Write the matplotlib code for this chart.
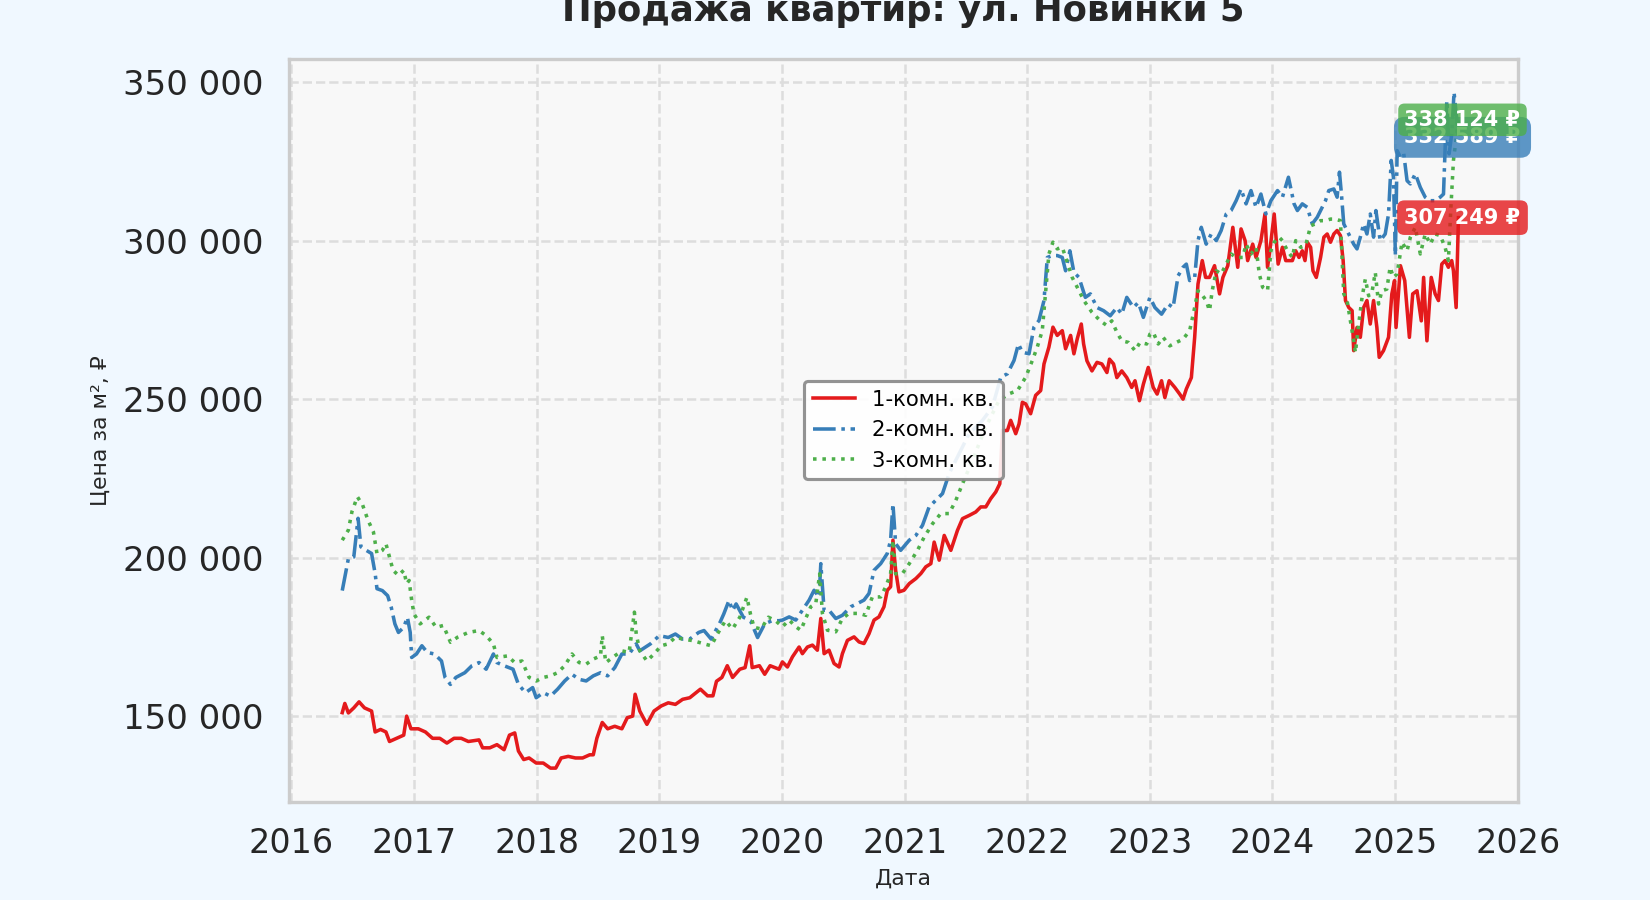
import pandas as pd
import numpy as np
import matplotlib.pyplot as plt
import matplotlib.dates as mdates
import matplotlib.ticker as mticker

# --- data: (decimal year, price in thousand rub per m2) ---
years_1k = [2016.417, 2016.438, 2016.467, 2016.511, 2016.554, 2016.598, 2016.656, 2016.685, 2016.729, 2016.773,
            2016.802, 2016.860, 2016.918, 2016.942, 2016.977, 2017.035, 2017.093, 2017.151, 2017.210, 2017.268,
            2017.326, 2017.385, 2017.443, 2017.530, 2017.559, 2017.618, 2017.676, 2017.734, 2017.778, 2017.821,
            2017.851, 2017.894, 2017.938, 2017.996, 2018.054, 2018.113, 2018.156, 2018.200, 2018.258, 2018.317,
            2018.375, 2018.433, 2018.462, 2018.491, 2018.535, 2018.579, 2018.637, 2018.695, 2018.739, 2018.783,
            2018.803, 2018.841, 2018.899, 2018.957, 2019.016, 2019.074, 2019.132, 2019.191, 2019.249, 2019.336,
            2019.394, 2019.438, 2019.467, 2019.511, 2019.555, 2019.598, 2019.657, 2019.700, 2019.738, 2019.758,
            2019.817, 2019.860, 2019.904, 2019.977,
            2020.005, 2020.046, 2020.087, 2020.141, 2020.168, 2020.209, 2020.250, 2020.290, 2020.318, 2020.345,
            2020.385, 2020.426, 2020.467, 2020.494, 2020.535, 2020.589, 2020.630, 2020.670, 2020.711, 2020.752,
            2020.792, 2020.833, 2020.860, 2020.887, 2020.906, 2020.928, 2020.955, 2020.996, 2021.037, 2021.091,
            2021.132, 2021.172, 2021.213, 2021.240, 2021.281, 2021.322, 2021.376, 2021.430, 2021.471, 2021.525,
            2021.579, 2021.620, 2021.661, 2021.701, 2021.742, 2021.775, 2021.796, 2021.837, 2021.864, 2021.905,
            2021.932, 2021.959, 2021.986, 2022.027, 2022.068, 2022.109, 2022.136, 2022.176, 2022.209, 2022.244,
            2022.285, 2022.312, 2022.353, 2022.380, 2022.407, 2022.440,
            2022.459, 2022.486, 2022.527, 2022.568, 2022.608, 2022.649, 2022.670, 2022.703, 2022.730, 2022.770,
            2022.811, 2022.851, 2022.878, 2022.914, 2022.946, 2022.986, 2023.027, 2023.059, 2023.095, 2023.122,
            2023.157, 2023.203, 2023.243, 2023.270, 2023.297, 2023.338, 2023.365, 2023.392, 2023.427, 2023.454,
            2023.486, 2023.527, 2023.568, 2023.595, 2023.635, 2023.676, 2023.716, 2023.743, 2023.776, 2023.797,
            2023.838, 2023.865, 2023.905, 2023.938, 2023.959, 2023.981, 2024.014, 2024.046, 2024.081, 2024.108,
            2024.162, 2024.189, 2024.216, 2024.243, 2024.265, 2024.284, 2024.311, 2024.330, 2024.357, 2024.392,
            2024.419, 2024.446, 2024.473, 2024.500, 2024.527, 2024.554, 2024.576, 2024.595, 2024.622, 2024.649,
            2024.662, 2024.689, 2024.716, 2024.743, 2024.770, 2024.797, 2024.824, 2024.851, 2024.870, 2024.905,
            2024.946, 2024.973, 2024.995, 2025.005, 2025.041, 2025.076, 2025.114, 2025.141, 2025.176, 2025.211,
            2025.230, 2025.257, 2025.292, 2025.324, 2025.351, 2025.378, 2025.405, 2025.432, 2025.459, 2025.473,
            2025.495, 2025.514]
price_1k = [151.1, 154.0, 151.0, 152.6, 154.5, 152.6, 151.6, 145.0, 145.8, 145.0,
            142.0, 143.0, 144.0, 150.0, 146.0, 146.0, 145.0, 143.0, 143.0, 141.5,
            143.0, 143.0, 142.0, 142.5, 140.0, 140.0, 141.0, 139.4, 144.0, 144.7,
            139.0, 136.3, 136.8, 135.2, 135.2, 133.6, 133.6, 136.8, 137.3, 136.8,
            136.8, 137.8, 137.8, 143.0, 148.0, 146.0, 146.8, 146.0, 149.5, 150.0,
            156.9, 151.6, 147.4, 151.6, 153.2, 154.2, 153.7, 155.3, 155.8, 158.5,
            156.4, 156.4, 161.0, 162.2, 165.9, 162.2, 164.8, 165.3, 172.2, 165.3,
            165.9, 163.2, 165.9, 164.8,
            167.1, 165.5, 168.7, 171.8, 169.7, 171.8, 172.4, 170.8, 180.8, 169.7,
            170.8, 166.6, 165.5, 169.7, 173.9, 175.0, 173.4, 172.9, 176.0, 180.3,
            181.3, 184.5, 189.7, 190.8, 205.5, 196.0, 189.2, 189.7, 191.8, 193.4,
            195.0, 197.1, 198.1, 204.9, 199.2, 207.0, 202.3, 208.6, 212.3, 213.3,
            214.4, 216.0, 216.0, 218.6, 220.7, 223.3, 240.1, 240.1, 243.3, 239.1,
            242.2, 249.0, 248.5, 245.4, 251.2, 252.7, 261.1, 266.4, 272.7, 270.1,
            271.6, 265.9, 270.1, 264.3, 269.0, 273.7,
            267.4, 262.1, 258.9, 261.6, 261.1, 258.4, 262.6, 261.1, 256.8, 258.9,
            256.8, 253.7, 255.8, 249.5, 254.7, 260.0, 253.7, 251.6, 255.8, 250.5,
            255.8, 253.7, 251.6, 250.0, 253.2, 256.8, 269.5, 286.3, 293.7, 288.4,
            288.4, 292.1, 283.2, 288.4, 292.1, 304.2, 291.6, 303.7, 300.0, 293.7,
            298.9, 294.7, 300.0, 308.4, 291.6, 297.9, 308.4, 292.6, 297.9, 293.7,
            293.7, 296.8, 294.7, 296.8, 293.7, 299.5, 297.9, 290.5, 288.4, 294.7,
            301.1, 302.1, 299.5, 302.1, 303.2, 301.6, 293.7, 281.1, 278.9, 277.9,
            265.3, 272.6, 269.5, 278.9, 281.1, 273.7, 281.1, 272.6, 263.2, 265.3,
            269.5, 283.2, 287.4, 272.6, 292.1, 287.4, 269.5, 283.2, 284.2, 274.7,
            288.4, 268.4, 288.4, 283.2, 281.1, 292.6, 293.7, 291.6, 293.7, 290.5,
            278.9, 307.249]

years_2k = [2016.417, 2016.467, 2016.511, 2016.546, 2016.569, 2016.613, 2016.656, 2016.685, 2016.700, 2016.744,
            2016.787, 2016.816, 2016.846, 2016.875, 2016.918, 2016.948, 2016.971, 2016.983, 2017.020, 2017.064,
            2017.108, 2017.166, 2017.224, 2017.253, 2017.297, 2017.341, 2017.414, 2017.472, 2017.530, 2017.588,
            2017.647, 2017.676, 2017.734, 2017.807, 2017.851, 2017.909, 2017.967, 2017.996, 2018.054, 2018.113,
            2018.171, 2018.229, 2018.288, 2018.346, 2018.404, 2018.462, 2018.521, 2018.579, 2018.637, 2018.695,
            2018.754, 2018.812, 2018.841, 2018.928, 2019.001, 2019.074, 2019.132, 2019.191, 2019.249, 2019.322,
            2019.365, 2019.424, 2019.496, 2019.526, 2019.569, 2019.598, 2019.627, 2019.686, 2019.744, 2019.802,
            2019.860, 2019.919, 2019.977,
            2020.005, 2020.060, 2020.114, 2020.168, 2020.223, 2020.263, 2020.304, 2020.318, 2020.345, 2020.385,
            2020.440, 2020.494, 2020.562, 2020.616, 2020.670, 2020.711, 2020.752, 2020.806, 2020.860, 2020.887,
            2020.906, 2020.928, 2020.969, 2021.037, 2021.091, 2021.145, 2021.199, 2021.254, 2021.308, 2021.362,
            2021.444, 2021.525, 2021.634, 2021.715, 2021.783, 2021.837, 2021.891, 2021.927, 2021.959, 2022.014,
            2022.054, 2022.095, 2022.136, 2022.163, 2022.204, 2022.244, 2022.285, 2022.312, 2022.347, 2022.380,
            2022.421,
            2022.473, 2022.514, 2022.568, 2022.622, 2022.676, 2022.730, 2022.770, 2022.811, 2022.865, 2022.905,
            2022.946, 2023.000, 2023.041, 2023.095, 2023.149, 2023.189, 2023.230, 2023.270, 2023.297, 2023.324,
            2023.365, 2023.392, 2023.419, 2023.459, 2023.500, 2023.541, 2023.581, 2023.622, 2023.662, 2023.703,
            2023.743, 2023.784, 2023.824, 2023.865, 2023.905, 2023.946, 2023.986, 2024.041, 2024.081, 2024.130,
            2024.176, 2024.203, 2024.243, 2024.284, 2024.324, 2024.365, 2024.392, 2024.432, 2024.459, 2024.500,
            2024.527, 2024.546, 2024.562, 2024.581, 2024.622, 2024.662, 2024.689, 2024.716, 2024.743, 2024.770,
            2024.797, 2024.824, 2024.843, 2024.878, 2024.919, 2024.946, 2024.968, 2024.986, 2025.000, 2025.014,
            2025.041, 2025.068, 2025.095, 2025.122, 2025.162, 2025.203, 2025.243, 2025.284, 2025.324, 2025.365,
            2025.392, 2025.419, 2025.438, 2025.459, 2025.478, 2025.514]
price_2k = [189.6, 199.7, 200.2, 212.4, 203.4, 202.3, 201.3, 195.0, 190.2, 189.6,
            188.0, 184.4, 179.1, 176.4, 178.0, 181.2, 176.4, 168.5, 169.6, 172.2,
            170.1, 169.6, 167.4, 162.2, 160.0, 162.2, 163.7, 165.9, 166.9, 164.8,
            169.6, 166.9, 165.9, 164.8, 160.0, 157.4, 159.0, 155.8, 157.4, 156.3,
            158.5, 161.1, 163.2, 161.6, 161.1, 162.7, 163.7, 162.7, 165.3, 169.6,
            169.6, 172.8, 170.6, 172.8, 175.4, 174.8, 175.9, 174.3, 174.3, 176.4,
            177.0, 174.3, 179.6, 182.2, 186.5, 183.3, 185.4, 181.2, 180.1, 174.8,
            179.1, 180.1, 180.1,
            180.3, 181.3, 180.3, 183.4, 186.6, 189.7, 187.6, 198.1, 183.4, 183.4,
            180.8, 181.8, 184.5, 185.5, 186.6, 188.7, 196.0, 198.1, 201.3, 205.5,
            217.0, 204.4, 202.3, 205.5, 207.0, 210.2, 216.0, 218.1, 220.2, 226.5,
            232.8, 239.1, 243.3, 247.5, 256.9, 258.0, 262.2, 267.4, 264.8, 264.3,
            272.7, 274.8, 281.1, 294.7, 295.3, 295.3, 294.7, 290.5, 296.8, 290.0,
            288.4,
            282.1, 283.2, 278.9, 277.9, 276.3, 278.9, 276.8, 282.1, 278.9, 280.5,
            275.8, 282.1, 278.9, 276.8, 280.0, 278.9, 288.9, 291.6, 292.6, 287.4,
            288.4, 300.0, 304.2, 298.9, 302.1, 300.0, 303.2, 308.4, 309.5, 312.6,
            316.3, 311.6, 315.8, 310.5, 314.7, 308.4, 312.6, 315.8, 313.7, 320.0,
            311.6, 309.5, 311.6, 310.5, 305.3, 307.4, 309.5, 312.6, 315.8, 316.3,
            313.7, 321.6, 314.7, 305.3, 302.1, 298.9, 297.4, 301.1, 305.3, 302.1,
            308.4, 301.1, 309.5, 300.0, 302.1, 308.4, 325.3, 320.0, 295.3, 328.4,
            326.3, 327.4, 318.9, 317.9, 321.1, 316.8, 313.7, 312.6, 312.6, 313.7,
            314.7, 344.2, 327.4, 333.7, 346.8, 332.589]

years_3k = [2016.417, 2016.467, 2016.496, 2016.540, 2016.583, 2016.627, 2016.671, 2016.700, 2016.744, 2016.773,
            2016.802, 2016.831, 2016.875, 2016.918, 2016.942, 2016.962, 2016.983, 2017.000, 2017.050, 2017.122,
            2017.181, 2017.239, 2017.297, 2017.355, 2017.443, 2017.530, 2017.588, 2017.647, 2017.676, 2017.763,
            2017.821, 2017.880, 2017.938, 2017.996, 2018.054, 2018.113, 2018.171, 2018.229, 2018.288, 2018.346,
            2018.404, 2018.462, 2018.521, 2018.535, 2018.564, 2018.637, 2018.695, 2018.754, 2018.797, 2018.812,
            2018.841, 2018.899, 2018.957, 2019.016, 2019.074, 2019.132, 2019.191, 2019.278, 2019.365, 2019.424,
            2019.482, 2019.540, 2019.598, 2019.657, 2019.715, 2019.744, 2019.773, 2019.831, 2019.890, 2019.948,
            2020.005, 2020.060, 2020.114, 2020.155, 2020.195, 2020.236, 2020.277, 2020.309, 2020.331, 2020.372,
            2020.440, 2020.494, 2020.548, 2020.630, 2020.684, 2020.738, 2020.806, 2020.847, 2020.887, 2020.906,
            2020.928, 2020.982, 2021.037, 2021.104, 2021.159, 2021.227, 2021.294, 2021.362, 2021.417, 2021.471,
            2021.552, 2021.661, 2021.769, 2021.851, 2021.919, 2021.986, 2022.041, 2022.081, 2022.122, 2022.157,
            2022.176, 2022.209, 2022.244, 2022.285, 2022.326, 2022.366, 2022.407, 2022.461,
            2022.527, 2022.595, 2022.649, 2022.689, 2022.730, 2022.770, 2022.824, 2022.878, 2022.919, 2022.973,
            2023.000, 2023.027, 2023.068, 2023.108, 2023.162, 2023.216, 2023.270, 2023.324, 2023.365, 2023.392,
            2023.419, 2023.459, 2023.486, 2023.508, 2023.541, 2023.581, 2023.622, 2023.662, 2023.703, 2023.757,
            2023.784, 2023.824, 2023.865, 2023.892, 2023.919, 2023.959, 2023.986, 2024.014, 2024.054, 2024.081,
            2024.122,
            2024.162, 2024.189, 2024.230, 2024.270, 2024.311, 2024.351, 2024.392, 2024.432, 2024.473, 2024.514,
            2024.554, 2024.568, 2024.581, 2024.608, 2024.635, 2024.662, 2024.676, 2024.703, 2024.730, 2024.757,
            2024.784, 2024.811, 2024.838, 2024.865, 2024.892, 2024.932, 2024.959, 2024.986, 2025.014, 2025.054,
            2025.095, 2025.122, 2025.162, 2025.203, 2025.243, 2025.284, 2025.324, 2025.365, 2025.405, 2025.432,
            2025.451, 2025.473, 2025.514]
price_3k = [205.5, 208.7, 214.5, 219.2, 216.6, 211.8, 208.1, 201.3, 202.3, 204.4,
            200.2, 196.0, 194.4, 196.0, 191.8, 192.8, 186.5, 182.2, 179.1, 181.2,
            178.0, 178.6, 173.3, 174.9, 176.4, 177.0, 175.4, 172.8, 168.5, 169.0,
            166.9, 167.4, 162.2, 161.1, 162.2, 162.7, 163.7, 165.9, 169.6, 166.9,
            166.4, 168.0, 169.0, 175.4, 166.9, 169.0, 170.6, 170.1, 182.8, 175.9,
            170.6, 167.4, 169.6, 172.2, 172.8, 174.9, 174.3, 173.8, 172.8, 172.2,
            176.4, 180.1, 177.5, 181.2, 187.5, 182.2, 178.0, 177.5, 181.2, 180.1,
            178.2, 180.3, 178.2, 177.1, 180.8, 184.5, 185.5, 194.9, 182.4, 177.1,
            176.6, 180.8, 182.4, 182.4, 181.8, 187.6, 187.6, 190.8, 194.9, 205.5,
            194.9, 194.9, 198.1, 202.3, 206.5, 210.7, 213.9, 213.9, 218.1, 223.3,
            230.7, 241.2, 249.6, 251.7, 252.7, 256.9, 262.2, 266.4, 271.6, 287.4,
            295.8, 299.5, 297.4, 297.9, 293.2, 288.4, 285.3, 281.1,
            277.4, 274.7, 273.2, 274.7, 271.1, 268.4, 267.9, 265.3, 267.9, 267.4,
            270.5, 271.1, 267.4, 269.5, 266.8, 267.9, 268.9, 271.6, 278.9, 284.2,
            283.2, 281.1, 277.9, 284.2, 290.5, 289.5, 292.6, 295.8, 294.7, 294.7,
            298.9, 295.8, 297.9, 289.5, 285.3, 284.2, 296.8, 299.5, 301.1, 300.0,
            296.8,
            294.7, 300.0, 297.9, 298.4, 304.7, 305.3, 306.3, 306.3, 306.8, 306.8,
            306.3, 293.7, 283.2, 281.1, 274.7, 268.4, 264.7, 273.7, 282.1, 287.9,
            282.6, 283.7, 290.0, 280.0, 284.2, 284.7, 291.6, 288.4, 289.5, 299.5,
            296.8, 301.1, 304.2, 295.8, 302.1, 298.9, 302.1, 301.6, 297.9, 293.7,
            309.5, 325.3, 338.124]

labels = ['1-комн. кв.', '2-комн. кв.', '3-комн. кв.']
colors = ['#e41a1c', '#377eb8', '#4daf4a']
styles = ['-', '-.', ':']


def to_dates(years):
    out = []
    for y in years:
        yr = int(y)
        start = pd.Timestamp(year=yr, month=1, day=1)
        out.append(start + pd.Timedelta(days=(y - yr) * 365.25))
    return out


series = [(years_1k, price_1k), (years_2k, price_2k), (years_3k, price_3k)]

fig = plt.figure(figsize=(11, 6), dpi=150, facecolor='#f0f8ff')
ax = fig.add_axes([0.175, 0.109, 0.745, 0.826])
ax.set_facecolor('#f8f8f8')

for (yrs, vals), lab, col, ls in zip(series, labels, colors, styles):
    d = to_dates(yrs)
    v = np.array(vals) * 1000
    ax.plot(d, v, ls, color=col, lw=1.7, label=lab)

# last-value tags
pads = [0.35, 0.5, 0.3]
for (yrs, vals), col, pd_ in zip(series, colors, pads):
    d = to_dates(yrs)[-1] + pd.Timedelta(days=12)
    v = vals[-1] * 1000
    txt = f"{v:,.0f} ₽".replace(',', ' ')
    ax.text(d, v, txt, ha='center', va='center', color='white', fontsize=10,
            fontweight='bold',
            bbox=dict(boxstyle='round,pad=%s' % pd_, fc=col, ec='none', alpha=0.8))

ax.set_xlim(pd.Timestamp('2015-12-25'), pd.Timestamp('2026-01-01'))
ax.xaxis.set_major_locator(mdates.YearLocator())
ax.xaxis.set_major_formatter(mdates.DateFormatter('%Y'))
ax.yaxis.set_major_locator(mticker.MultipleLocator(50000))
ax.yaxis.set_major_formatter(mticker.FuncFormatter(lambda x, p: f"{x:,.0f}".replace(',', ' ')))

ax.grid(True, ls='--', color='#dddddd', lw=1.2)
ax.set_axisbelow(True)
for s in ax.spines.values():
    s.set_color('#cccccc')
    s.set_linewidth(1.6)
ax.tick_params(axis='both', length=0, pad=12, labelsize=16, labelcolor='#262626')
ax.tick_params(axis='y', labelsize=16.3)

ax.set_xlabel('Дата', fontsize=10.5, color='#262626')
ax.set_ylabel('Цена за м², ₽', fontsize=10.5, color='#262626', labelpad=6)
ax.set_title('Продажа квартир: ул. Новинки 5', fontsize=17, fontweight='bold',
             color='#262626', pad=18)

leg = ax.legend(loc='center', fontsize=10.2, frameon=True, fancybox=True, framealpha=0.9)
leg.get_frame().set_edgecolor('#888888')
leg.get_frame().set_linewidth(1.5)
leg.get_frame().set_facecolor('white')

fig.savefig('out.png', dpi=150, facecolor=fig.get_facecolor())
